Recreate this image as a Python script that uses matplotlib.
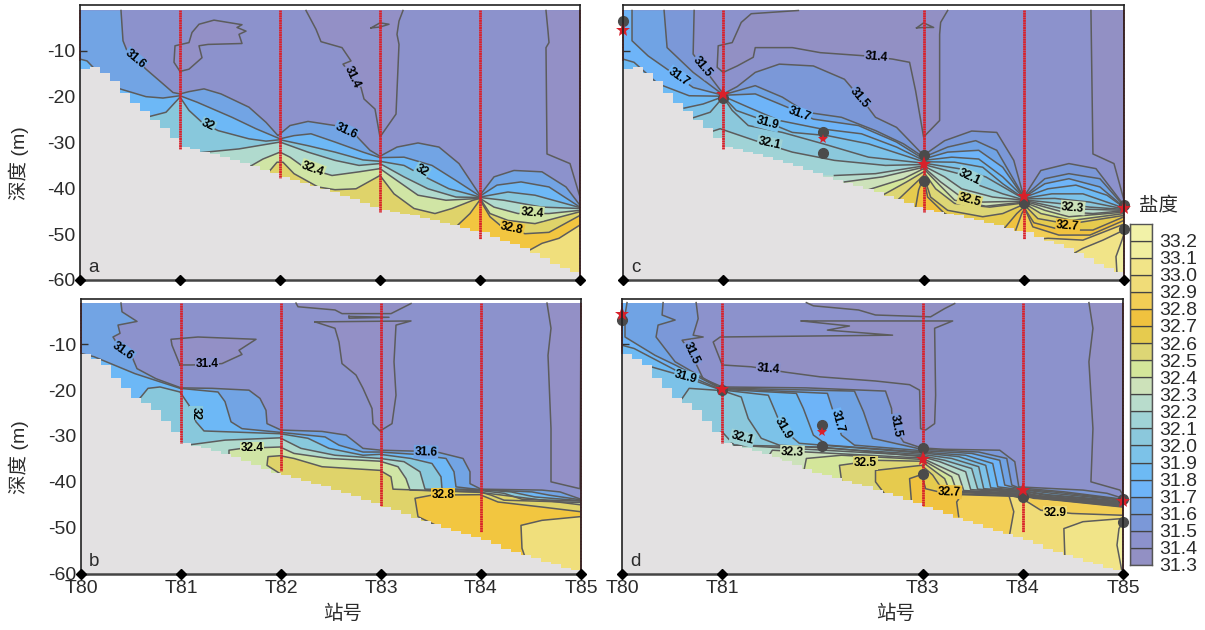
import matplotlib
matplotlib.use("Agg")
import matplotlib.pyplot as plt

plt.rcParams['font.family'] = ['Liberation Sans', 'Noto Sans CJK SC', 'DejaVu Sans']

stations = ['T80', 'T81', 'T82', 'T83', 'T84', 'T85']
red_depth = [12.2, 31.5, 37.7, 45.2, 51.0, 60.0]

bar_levels = [31.3, 31.4, 31.5, 31.6, 31.7, 31.8, 31.9, 32.0, 32.1, 32.2,
              32.3, 32.4, 32.5, 32.6, 32.7, 32.8, 32.9, 33.0, 33.1, 33.2]
bar_colors = ['#9290C4', '#8C92CC', '#7B98D8', '#70A3E4', '#6EB4F8', '#6DBAF4', '#7CC2E8',
              '#8BC8DC', '#A0D3D6', '#B8DCCC', '#CDE2BA', '#D4E69A', '#DDD675', '#E6CB4E',
              '#F0C23F', '#F2CE55', '#F0DC78', '#F1E488', '#F1EFA0', '#F2F2A8']
coarse_levels = [31.3, 31.4, 31.6, 31.8, 32.0, 32.2, 32.4, 32.6, 32.8, 33.0]
coarse_colors = ['#9390C6', '#8C92CC', '#72A4E4', '#6DB8F6', '#88C8DC', '#B0DACE',
                 '#D0E5A5', '#DFD36A', '#F2C640', '#F0DF7C']

bed_x = [i / 10 for i in range(51)]
bed_ac = [14.0, 13.6, 14.8, 16.6, 19.2, 21.4, 23.2, 25.0, 26.8, 29.0, 31.0,
          31.5, 32.0, 32.6, 33.2, 33.9, 34.5, 35.2, 36.0, 36.7, 37.5,
          38.2, 38.8, 39.5, 40.2, 40.9, 41.7, 42.4, 43.1, 44.0, 44.8,
          45.1, 45.5, 45.9, 46.4, 46.9, 47.5, 48.0, 48.7, 49.2, 49.6,
          50.6, 51.4, 52.1, 53.0, 54.0, 55.2, 56.4, 57.4, 58.2, 59.0]
bed_bd = [12.2, 13.2, 14.4, 17.3, 19.6, 21.8, 22.8, 24.4, 26.8, 29.2, 31.6,
          32.2, 32.7, 33.2, 34.0, 34.6, 35.5, 36.4, 37.3, 38.0, 38.6,
          39.2, 39.8, 40.4, 41.0, 41.7, 42.4, 43.1, 43.9, 44.7, 45.5,
          46.2, 47.0, 47.8, 48.6, 49.3, 50.0, 50.7, 51.4, 52.0, 52.7,
          53.6, 54.6, 55.4, 56.0, 56.7, 57.4, 58.0, 58.7, 59.3, 60.0]

# panel a, isohalines as (station position, depth)
a_316 = [(.41,1.2),(.43,7.8),(.47,10),(.66,14),(.83,17.2),(.93,19.1),(1,19.4),(1.09,18.9),(1.24,18.3),(1.41,19.4),(1.69,22.3),(1.86,25.6),(1.98,28.5),(2.1,26.3),(2.28,25.4),(2.55,26.3),(2.76,28.5),(2.9,31.7),(3,33),(3.17,31),(3.38,30.1),(3.59,31),(3.79,34.6),(4,41.5),(4.14,37.5),(4.34,36.1),(4.62,36.4),(4.86,39.7),(5,43.7)]
a_318 = [(0,11.8),(.07,12.2),(.21,15.4),(.4,18.3),(.66,20),(.83,20.3),(1,19.8),(1.17,21.2),(1.52,24.5),(1.76,27),(2,29.2),(2.14,28.5),(2.31,28.1),(2.55,29.9),(2.83,32.1),(3,33.3),(3.24,33.2),(3.52,35),(3.76,38.3),(4,41.7),(4.17,39.3),(4.41,38.6),(4.69,39.7),(5,44.1)]
a_320 = [(.7,24.3),(.86,23.4),(1,20.1),(1.09,23),(1.22,25.6),(1.38,27.4),(1.69,29.2),(1.86,29.7),(2,29.4),(2.28,30.7),(2.55,32.1),(2.83,33.8),(3,34.1),(3.24,35),(3.45,37.5),(3.69,40.1),(4,41.9),(4.28,40.8),(4.55,41.5),(5,44.2)]
a_322 = [(1.21,32.2),(1.59,31.4),(2,29.9),(2.28,32.1),(2.55,33.9),(2.79,35),(3,34.6),(3.24,37.5),(3.48,40.1),(3.76,41.9),(4,42),(4.24,42.6),(4.62,44.1),(5,44.4)]
a_324 = [(1.71,35.1),(1.83,33.6),(2,32.1),(2.1,33.2),(2.24,35.4),(2.52,37.2),(2.79,36.4),(3,35.7),(3.17,38.3),(3.38,41.5),(3.66,42.6),(4,42.2),(4.14,44.1),(4.38,45.5),(4.69,45.5),(5,44.8)]
a_326 = [(1.9,36.1),(1.97,34.3),(2.03,34.3),(2.14,36.8),(2.38,39.7),(2.55,40.3),(2.76,40.1),(3,37.2),(3.14,41.2),(3.34,44.4),(3.55,45.5),(3.72,44.4),(3.93,42.6),(4,42.2),(4.1,45.5),(4.28,47),(4.55,47.7),(5,45.1)]
a_328 = [(3.76,48.4),(3.9,45.5),(4,42.5),(4.1,46.2),(4.22,48.4),(4.45,49.9),(4.69,49.6),(5,45.9)]
a_330 = [(4.47,53.8),(4.62,52),(4.79,50.9),(5,48)]
a_314_island = [(1,14.5),(.94,12.5),(.95,8.9),(1.09,8.2),(1.12,6),(1.19,4.2),(1.34,3.3),(1.62,4.3),(1.57,4.9),(1.66,5.7),(1.59,6.4),(1.62,8.4),(1.28,8.6),(1.19,8.9),(1.22,11.5),(1.09,14),(1,14.5)]
a_314_mid = [(2.26,1.2),(2.36,5.3),(2.41,8),(2.62,9.3),(2.71,12.2),(2.63,12.9),(2.81,18),(2.84,20.5),(2.95,22.7),(3,28.8),(3.16,23.8),(3.19,8.6),(3.17,6.4),(3.19,3.5),(3.23,1.2)]
a_314_lens = [(2.91,5),(3,3.9),(3.09,4.2),(3,4.8),(2.91,5)]
a_314_right = [(4.66,1.2),(4.68,5.7),(4.69,8.2),(4.66,9.3),(4.67,32.5),(4.9,34.6),(5,41.9),(5,1.2)]

# panel b
b_316 = [(.4,1),(.41,2.9),(.56,5),(.37,5.8),(.39,7.6),(.32,8.4),(.36,9.8),(.51,12.7),(.56,15.3),(.75,17.5),(1,19.5),(1.31,19.6),(1.68,20),(1.79,21.8),(1.85,24.4),(1.86,27.3),(2,28.7),(2.41,29),(2.65,29.8),(2.82,32.7),(3,33.1),(3.34,33.3),(3.58,33.6),(3.82,34.9),(3.89,37.8),(3.89,40.4),(4,41.6),(4.61,41.8),(4.79,42.2),(5,43.8)]
b_318 = [(0,12),(.13,12.7),(.54,16.4),(.99,19.6),(1.37,20.4),(1.44,22.5),(1.5,26.9),(1.61,28.4),(1.99,29.2),(2.44,30.2),(2.58,32),(2.82,33.5),(2.99,33.5),(3.34,34),(3.65,34.9),(3.73,37.8),(3.75,41.1),(3.99,41.7),(4.51,42.2),(4.68,42.9),(4.99,43.9)]
b_320 = [(.58,22),(.67,19.6),(.79,19.3),(.99,20.4),(1.08,23.3),(1.15,26.9),(1.23,28.9),(1.99,29.5),(2.27,30.5),(2.48,32.7),(2.82,34.2),(2.99,34),(3.3,34.9),(3.51,36),(3.6,38.9),(3.61,41.5),(3.99,41.7),(4.3,42.2),(4.54,43.3),(4.99,44.1)]
b_322 = [(1.06,32),(1.44,30.9),(1.99,30.4),(2.2,32.7),(2.54,34.2),(2.99,34.9),(3.23,35.6),(3.39,37.8),(3.44,41.6),(3.99,41.9),(4.23,42.5),(4.41,43.8),(4.99,44.2)]
b_324 = [(1.48,34.5),(1.48,33.1),(1.61,32.7),(1.99,32.4),(2.13,33.8),(2.48,34.9),(2.99,35.5),(3.17,36.7),(3.25,39.3),(3.29,41.8),(3.99,42.2),(4.1,42.9),(4.23,44),(4.99,44.5)]
b_326 = [(1.99,38.2),(1.86,36.4),(1.87,34.5),(1.99,34.3),(2.13,34.9),(2.41,36.7),(2.99,37.5),(3.1,38.9),(3.12,41.6),(3.99,42.3),(4.99,45)]
b_328 = [(3.58,49.8),(3.37,47.6),(3.34,43.6),(3.51,42.9),(3.99,42.8),(4.17,44.4),(4.61,45.5),(4.99,46.5)]
b_330 = [(4.44,56.4),(4.41,54.5),(4.4,49.5),(4.61,48.4),(4.99,47.6)]
b_314_island = [(.99,14.5),(.91,10.2),(.9,8.9),(1.17,8.4),(1.75,8.9),(1.58,11.3),(1.61,12.2),(1.41,14.2),(1.27,14.4),(1.11,14.5),(.99,14.5)]
b_314_mid = [(2.34,5.1),(3.3,4.9),(3.15,5.8),(3.13,13.8),(3.15,21.1),(3.11,27.3),(2.99,28.9),(2.92,27.3),(2.91,24),(2.82,19.6),(2.75,16.7),(2.61,14.2),(2.58,9.5),(2.54,6.5),(2.34,5.1)]
b_314_top = [(2.15,1),(2.17,1.8),(2.54,2.5),(2.61,3.3),(3.1,3.3),(3.3,1.1)]
b_314_lens = [(2.68,3.9),(3.08,4.1),(2.68,4.3),(2.68,3.9)]
b_314_right = [(4.66,1),(4.7,6.5),(4.67,12.4),(4.7,28.4),(4.7,40),(4.99,41.5),(5,1)]

# panel c
c_315 = [(.71,1.2),(.7,10.7),(.8,13.6),(1,19.4),(1.14,17.8),(1.32,14.7),(1.56,12.9),(1.9,13.3),(2.21,16.2),(2.42,21.6),(2.52,24.5),(2.73,26.7),(3,32.8),(3.21,29.6),(3.48,27.5),(3.73,27.8),(3.9,33.9),(4,41.9),(4.17,36.1),(4.45,34.6),(4.72,35.7),(5,43.7)]
c_316 = [(.41,1.2),(.44,9.3),(.7,14.7),(1,19.6),(1.32,17.6),(1.59,20.1),(1.83,23.4),(2.18,24.5),(2.52,27.4),(2.8,30.3),(3,33.2),(3.24,31),(3.52,29.6),(3.73,31.7),(4,41.9),(4.21,37.9),(4.45,36.8),(4.76,37.9),(5,43.9)]
c_317 = [(.09,1.2),(.09,7.8),(.25,11.1),(.44,14),(.7,18),(1,19.7),(1.32,19.4),(1.64,22.3),(1.9,24.9),(2.35,26.3),(2.73,29.9),(3,33.6),(3.24,32.1),(3.55,31.7),(3.79,35.4),(4,42),(4.21,39),(4.45,37.9),(4.76,39.7),(5,44.1)]
c_318 = [(0,11.8),(.11,12.5),(.35,17.2),(.66,19.8),(1,19.9),(1.25,22.3),(1.56,25.2),(1.97,27),(2.38,28.1),(2.73,31),(3,33.9),(3.28,33.2),(3.55,33.6),(3.79,37.5),(4,42),(4.24,40.1),(4.52,39.3),(4.83,41.5),(5,44.2)]
c_319 = [(.61,22.5),(.8,21.6),(1,20),(1.13,23),(1.32,24.5),(1.69,27.8),(2.04,28.5),(2.45,30.3),(3,34.2),(3.31,34.3),(3.59,35.4),(3.79,39),(4,42.2),(4.28,41.2),(4.59,41.2),(5,44.3)]
c_320 = [(.7,24.6),(.87,23.4),(1,20.1),(1.09,23),(1.25,26.3),(1.59,27.8),(2,30.3),(2.45,33.2),(3,34.5),(3.35,35.7),(3.62,37.5),(4,42.3),(4.31,42.2),(4.66,43),(5,44.5)]
c_321 = [(.9,27.5),(.97,27),(1.32,29.6),(1.69,32.1),(2.11,33.9),(2.62,35),(3,34.8),(3.35,36.8),(3.55,39.3),(3.79,41.2),(4,42.5),(4.35,43.3),(4.66,44.1),(5,44.6)]
c_322 = [(2.11,37.2),(2.52,36.8),(3,35.1),(3.21,37.5),(3.38,40.1),(3.69,41.9),(4,42.6),(4.38,44.4),(5,44.8)]
c_323 = [(2.21,38.6),(2.59,37.5),(3,35.4),(3.17,38.6),(3.35,41.5),(3.59,43),(4,42.8),(4.38,45.1),(4.69,45.5),(5,44.9)]
c_324 = [(2.45,40.3),(2.8,37.9),(3,35.7),(3.16,39.3),(3.31,42.6),(3.62,43.9),(4,43),(4.21,44.8),(4.45,46.2),(5,45.2)]
c_325 = [(2.59,41.5),(2.83,38.6),(3,36.4),(3.12,40.1),(3.31,43.3),(3.66,44.1),(4,43.2),(4.17,45.5),(4.48,47),(5,45.5)]
c_326 = [(2.73,42.8),(2.86,40.1),(3,37.2),(3.07,41.9),(3.24,44.8),(3.59,46.2),(3.79,45.5),(4,43.5),(4.14,46.6),(4.45,47.8),(5,45.9)]
c_327 = [(2.92,44.2),(2.95,40.4),(3,37.5),(3.04,41.9),(3.21,45.5),(3.48,48.4),(3.76,49.9),(3.93,45.5),(4,44.1),(4.1,47.5),(4.38,49.1),(4.69,49.1),(5,46.2)]
c_328 = [(3.92,49.1),(3.98,45.5),(4.01,44.4),(4.09,48.4),(4.35,50.2),(4.66,50.2),(5,47)]
c_329 = [(4.04,51.3),(4.24,50.9),(4.59,51.3),(5,47.8)]
c_330 = [(4.5,54.2),(4.59,53.1),(4.79,51.3),(5,49.1)]
c_331 = [(4.93,58.6),(4.92,54.9),(4.98,51.3),(5,49.9)]
c_314_top = [(1.75,1.2),(1.28,1.9),(1.18,3.8),(1.09,8.2),(.95,8.9),(.94,13.6),(1,14.7),(1.14,13.3),(1.3,11.4),(1.32,9.3),(1.69,9.3),(1.97,10.4),(2.42,11.1),(2.69,11.8),(2.86,12.5),(2.92,18.7),(3,28.8),(3.16,25.2),(3.16,6.4),(3.17,3.8),(3.24,1.2)]
c_314_lens = [(2.93,5),(3,3.9),(3.1,4.9),(3,4.9),(2.93,5)]
c_314_right = [(4.67,1.2),(4.69,32.5),(4.9,34.6),(5,42.6),(5,1.2)]

# panel d
d_315 = [(.74,.9),(.76,4.4),(.71,8),(.81,8.4),(.6,9.1),(.69,12),(.81,17.5),(1,19.3),(1.84,19.5),(2.63,20.2),(2.69,24),(2.7,27.6),(2.81,31.3),(2.99,32.6),(3.22,32.9),(3.77,33.1),(3.92,35.6),(3.96,41.1),(4.6,41.8),(4.84,42.5),(5,43.6)]
d_316 = [(.41,.9),(.4,3.6),(.53,4.7),(.36,5.8),(.34,8.4),(.53,13.8),(.98,19.5),(1.5,19.8),(2.32,20.2),(2.41,24.7),(2.5,30.5),(2.99,32.9),(3.56,33.5),(3.84,34.9),(3.89,40.7),(3.96,41.3),(4.42,42.2),(5,43.8)]
d_317 = [(.05,.9),(.03,3.6),(.03,8.4),(.33,12.4),(.53,14.5),(.98,19.6),(2.05,20.7),(2.12,25.5),(2.19,29.8),(2.32,32),(2.99,33.2),(3.49,33.8),(3.77,35.3),(3.82,40.7),(3.98,41.6),(4.35,42.3),(5,43.9)]
d_318 = [(0,10.2),(.12,10.9),(.53,15.6),(.98,19.8),(1.74,20.7),(1.81,24),(1.91,29.8),(2.05,32),(2.99,33.5),(3.43,34.2),(3.7,36),(3.75,41.1),(3.98,41.7),(4.29,42.5),(5,44)]
d_319 = [(.22,15.6),(.29,14.9),(.53,16.4),(.98,19.9),(1.46,21.1),(1.53,24.7),(1.6,28.4),(1.77,31.6),(2.99,33.7),(3.36,34.5),(3.63,36.4),(3.68,41.3),(3.98,41.9),(4.25,42.8),(5,44.2)]
d_320 = [(.6,21.8),(.67,19.6),(1,20.1),(1.19,21.5),(1.26,26.2),(1.39,30.5),(1.57,32),(2.99,34),(3.29,34.9),(3.56,36.7),(3.61,41.5),(3.98,42),(4.22,42.9),(5,44.4)]
d_321 = [(.9,29.8),(1,29.1),(1.12,32),(2.99,34.3),(3.22,35.3),(3.49,37.1),(3.55,41.6),(3.98,42.2),(4.18,43.1),(5,44.5)]
d_322 = [(1.12,32),(1.98,32.4),(2.99,34.5),(3.17,35.6),(3.43,37.8),(3.48,41.7),(3.98,42.3),(4.15,43.3),(5,44.7)]
d_323 = [(1.46,34.5),(1.5,33.1),(2.99,34.8),(3.36,38.5),(3.41,41.9),(3.98,42.5),(4.11,43.6),(5,44.8)]
d_324 = [(1.82,37.1),(1.84,34.9),(2.19,34.2),(2.99,35.1),(3.29,38.9),(3.34,42),(3.98,42.6),(5,45)]
d_325 = [(2.19,39.6),(2.17,36.4),(2.53,35.3),(2.99,35.5),(3.22,39.3),(3.27,42),(3.98,42.8),(5,45.1)]
d_326 = [(2.63,42.9),(2.53,40),(2.53,37.5),(2.99,36.4),(3.1,38.5),(3.18,41.1),(3.22,42.2),(3.98,42.9),(5,45.2)]
d_327 = [(2.89,44.7),(2.87,39.3),(2.99,38.4),(3.03,41.5),(3.22,42.5),(3.98,43.1),(5,45.4)]
d_328 = [(3.36,47.6),(3.34,44.4),(3.39,42.8),(3.98,43.2),(5,45.5)]
d_329 = [(3.87,51.3),(3.91,46.5),(3.86,42.9),(3.99,43.6),(4.18,46.2),(4.49,46.9),(5,47.3)]
d_330 = [(4.42,56.4),(4.41,50.2),(4.6,48.7),(5,48)]
d_331 = [(4.99,59.6),(4.94,53.8),(4.96,50.2),(5,48.7)]
d_314_top = [(1.84,.9),(1.91,1.6),(2.36,2.5),(2.53,3.6),(3.08,4),(3.22,2.2),(3.32,1.1)]
d_314_mid = [(1.79,4.9),(2.27,6),(2.05,6.9),(2.7,8),(.98,8.4),(.91,9.5),(1,14.5),(1.29,14.9),(1.64,16.1),(1.98,17.1),(2.53,18),(2.87,18.8),(2.97,20),(2.98,28.4),(3.03,28.7),(3.12,27.3),(3.13,21.1),(3.12,6.5),(3.3,4.9),(1.79,4.9)]
d_314_right = [(4.66,.9),(4.7,6.5),(4.66,13.8),(4.7,28.4),(4.68,40),(4.97,41.8),(5,42.9),(5,1)]

# contour labels: position, depth, rotation, text
a_labels = [(.55,11.8,-40,'31.6'),(2.72,15.7,-65,'31.4'),(1.28,26.3,-25,'32'),(2.66,27.5,-25,'31.6'),
            (2.33,35.7,-20,'32.4'),(3.42,36.2,-30,'32'),(4.52,45.3,-5,'32.4'),(4.32,48.8,-12,'32.8')]
b_labels = [(.42,11.5,-35,'31.6'),(1.26,14.3,0,'31.4'),(1.15,25,-90,'32'),(1.71,32.7,0,'32.4'),
            (3.45,33.5,-2,'31.6'),(3.62,42.9,0,'32.8')]
c_labels = [(2.53,11.4,-5,'31.4'),(.79,13.5,-50,'31.5'),(.56,15.7,-35,'31.7'),(2.36,20.3,-50,'31.5'),
            (1.76,23.8,-20,'31.7'),(1.44,25.7,-15,'31.9'),(1.46,30.3,-12,'32.1'),(3.46,37.5,-25,'32.1'),
            (3.46,42.6,-15,'32.5'),(4.49,44.2,-5,'32.3'),(4.44,48.2,-5,'32.7')]
d_labels = [(.69,12,-65,'31.5'),(.64,17.2,-15,'31.9'),(1.46,15.3,-5,'31.4'),(2.15,26.7,-75,'31.7'),
            (1.61,28.4,-60,'31.9'),(2.73,27.8,-80,'31.5'),(1.2,30.5,-15,'32.1'),(1.7,33.5,-2,'32.3'),
            (2.43,35.9,0,'32.5'),(3.27,42.2,-2,'32.7'),(4.32,46.7,0,'32.9')]

# dots and stars of panels c and d
c_dot_x = [0, 1, 2, 2, 3, 3, 4, 5, 5]
c_dot_d = [3.5, 20.4, 27.8, 32.3, 32.8, 38.3, 43.2, 43.7, 48.8]
c_star_x = [0, 1, 2, 3, 4, 5]
c_star_d = [5.4, 19.4, 29.3, 34.8, 41.7, 44.2]
d_dot_x = [0, 1, 2, 2, 3, 3, 4, 5, 5]
d_dot_d = [4.7, 20.0, 27.6, 32.2, 32.7, 38.2, 43.3, 43.8, 48.7]
d_star_x = [0, 1, 2, 3, 4, 5]
d_star_d = [3.3, 19.8, 29.2, 35.1, 41.7, 44.1]

LINE = '#5c5c5c'
RED = '#D9202A'
TEXT = '#2b2b2b'
W, H = 1205.0, 630.0


def make_axes(fig, left, top, right, bottom):
    return fig.add_axes([left / W, 1 - bottom / H, (right - left) / W, (bottom - top) / H])


def draw_panel(ax, lines, fresh, labels, colors, bed, letter, red_stations):
    ax.set_xlim(0, 5)
    ax.set_ylim(60, 0)
    ax.fill_between([0, 5], 0, 60, color=colors[31.4], lw=0, zorder=1)
    for patch in fresh:
        ax.fill([p[0] for p in patch], [p[1] for p in patch], color=colors[31.3], lw=0, zorder=1.1)
    # painter's order, each isohaline fills everything saltier below it
    for level, pts in lines:
        xs = [p[0] for p in pts] + [5, 0, 0]
        ds = [p[1] for p in pts] + [60, 60, pts[0][1]]
        ax.fill(xs, ds, color=colors[level], lw=0, zorder=1.2)
    ax.axhspan(0, 1.0, color='white', lw=0, zorder=1.3)
    for pts in [p for _, p in lines] + fresh:
        ax.plot([p[0] for p in pts], [p[1] for p in pts], color=LINE, lw=1.1, zorder=1.5)
    ax.fill_between(bed_x, bed, 60, step='post', color='#E3E1E2', lw=0, zorder=2)
    ax.fill_between([4.9, 5], bed[-2:], 60, color='#E3E1E2', lw=0, zorder=2)
    for i in red_stations:
        ax.plot([i, i], [1.0, red_depth[i]], color=RED, lw=1.2 if i in (0, 5) else 2,
                ls=(0, (0.7, 0.15)), zorder=3, clip_on=False)
    for x, d, rot, txt in labels:
        lev = float(txt)
        ax.text(x, d, txt, rotation=rot, rotation_mode='anchor', ha='center', va='center',
                fontsize=8.6, fontweight='bold', color='black', zorder=3.5,
                bbox=dict(fc=colors[lev], ec='none', pad=0.6))
    ax.plot(red_stations_all(letter), [60] * len(red_stations_all(letter)), ls='none', marker='D',
            color='black', ms=5.5, zorder=6, clip_on=False)
    ax.text(0.08, 57.3, letter, fontsize=13.5, color=TEXT, ha='left', va='center', zorder=5)
    ax.set_yticks([10, 20, 30, 40, 50, 60])
    ax.set_yticklabels(['-10', '-20', '-30', '-40', '-50', '-60'], fontsize=14, color=TEXT)
    ax.tick_params(axis='y', direction='in', length=5, width=1, pad=3, color='#333333')
    ax.tick_params(axis='x', length=0, pad=5)
    for s in ax.spines.values():
        s.set_linewidth(1.2)
        s.set_color('#222222')
        s.set_zorder(5)
    ax.spines['bottom'].set_linewidth(1.8)
    ax.spines['bottom'].set_color('#444444')


def red_stations_all(letter):
    return [0, 1, 3, 4, 5] if letter in 'cd' else [0, 1, 2, 3, 4, 5]


def draw_markers(ax, dot_x, dot_d, star_x, star_d):
    ax.plot(dot_x, dot_d, ls='none', marker='o', color='#4b4b4b', ms=7, zorder=4, clip_on=False)
    sizes = [11, 11, 7.5, 11, 11, 11]
    for x, d, s in zip(star_x, star_d, sizes):
        ax.plot(x, d, ls='none', marker='*', color=RED, ms=s, mew=0, zorder=4.5, clip_on=False)


fig = plt.figure(figsize=(W / 100, H / 100), dpi=100)
ax_a = make_axes(fig, 80, 5, 580, 280)
ax_b = make_axes(fig, 81, 298.5, 581, 573.5)
ax_c = make_axes(fig, 623, 5, 1124, 280)
ax_d = make_axes(fig, 622, 298.5, 1123, 573.5)

fine = dict(zip(bar_levels, bar_colors))
coarse = dict(zip(coarse_levels, coarse_colors))

draw_panel(ax_a,
           [(31.6, a_316), (31.8, a_318), (32.0, a_320), (32.2, a_322), (32.4, a_324),
            (32.6, a_326), (32.8, a_328), (33.0, a_330)],
           [a_314_island, a_314_mid, a_314_lens, a_314_right], a_labels, coarse, bed_ac, 'a', [0, 1, 2, 3, 4, 5])
draw_panel(ax_b,
           [(31.6, b_316), (31.8, b_318), (32.0, b_320), (32.2, b_322), (32.4, b_324),
            (32.6, b_326), (32.8, b_328), (33.0, b_330)],
           [b_314_island, b_314_mid, b_314_top, b_314_lens, b_314_right], b_labels, coarse, bed_bd, 'b', [0, 1, 2, 3, 4, 5])
draw_panel(ax_c,
           [(31.5, c_315), (31.6, c_316), (31.7, c_317), (31.8, c_318), (31.9, c_319), (32.0, c_320),
            (32.1, c_321), (32.2, c_322), (32.3, c_323), (32.4, c_324), (32.5, c_325), (32.6, c_326),
            (32.7, c_327), (32.8, c_328), (32.9, c_329), (33.0, c_330), (33.1, c_331)],
           [c_314_top, c_314_lens, c_314_right], c_labels, fine, bed_ac, 'c', [0, 1, 3, 4, 5])
draw_panel(ax_d,
           [(31.5, d_315), (31.6, d_316), (31.7, d_317), (31.8, d_318), (31.9, d_319), (32.0, d_320),
            (32.1, d_321), (32.2, d_322), (32.3, d_323), (32.4, d_324), (32.5, d_325), (32.6, d_326),
            (32.7, d_327), (32.8, d_328), (32.9, d_329), (33.0, d_330), (33.1, d_331)],
           [d_314_top, d_314_mid, d_314_right], d_labels, fine, bed_bd, 'd', [0, 1, 3, 4, 5])

draw_markers(ax_c, c_dot_x, c_dot_d, c_star_x, c_star_d)
draw_markers(ax_d, d_dot_x, d_dot_d, d_star_x, d_star_d)

ax_a.set_xticks([])
ax_c.set_xticks([])
ax_c.set_yticklabels([])
ax_d.set_yticklabels([])
ax_b.set_xticks(range(6))
ax_b.set_xticklabels(stations, fontsize=14, color=TEXT)
ax_d.set_xticks([0, 1, 3, 4, 5])
ax_d.set_xticklabels(['T80', 'T81', 'T83', 'T84', 'T85'], fontsize=14, color=TEXT)

fig.text(343 / W, 1 - 614 / H, '站号', fontsize=14, color=TEXT, ha='center', va='center')
fig.text(896 / W, 1 - 614 / H, '站号', fontsize=14, color=TEXT, ha='center', va='center')
fig.text(19 / W, 1 - 163 / H, '深度 (m)', fontsize=14, color=TEXT, rotation=90, ha='center', va='center')
fig.text(19 / W, 1 - 457 / H, '深度 (m)', fontsize=14, color=TEXT, rotation=90, ha='center', va='center')
fig.text(1158 / W, 1 - 205 / H, '盐度', fontsize=14, color=TEXT, ha='center', va='center')

# salinity colour bar, one bar per class
cax = make_axes(fig, 1130, 223.5, 1152, 565)
for level, col in zip(bar_levels, bar_colors):
    cax.bar(0, 0.1, bottom=level, width=1, color=col, edgecolor='#444444', lw=0.9)
cax.set_xlim(-0.5, 0.5)
cax.set_ylim(31.3, 33.3)
cax.set_xticks([])
cax.yaxis.tick_right()
cax.set_yticks(bar_levels)
cax.set_yticklabels(['%.1f' % v for v in bar_levels], fontsize=14, color=TEXT)
cax.tick_params(axis='y', length=0, pad=5)
for s in cax.spines.values():
    s.set_linewidth(1.0)
    s.set_color('#555555')

fig.savefig('out.png', dpi=100)
